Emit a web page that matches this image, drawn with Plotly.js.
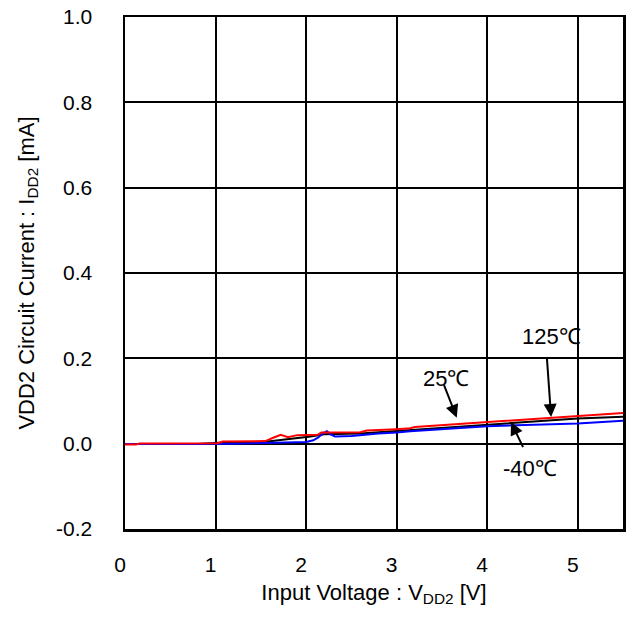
<!DOCTYPE html>
<html><head><meta charset="utf-8">
<script src="https://cdn.plot.ly/plotly-3.0.1.min.js"></script>
<style>html,body{margin:0;padding:0;background:#fff;}</style>
</head><body>
<div id="chart" style="width:629px;height:621px;"></div>
<script>
// Input voltage VDD2 [V] and circuit current IDD2 [mA]
const x125 = [0, 0.12, 0.16, 1.02, 1.08, 1.55, 1.65, 1.72, 1.8, 1.9, 2.13, 2.17, 2.6, 2.67, 3.0, 3.15, 3.2, 4.0, 5.0, 5.5];
const y125 = [-0.002, -0.002, 0.0005, 0.001, 0.005, 0.006, 0.015, 0.021, 0.015, 0.02, 0.021, 0.026, 0.027, 0.031, 0.034, 0.036, 0.039, 0.051, 0.065, 0.072];

const x25 = [0, 0.8, 1.05, 1.53, 2.05, 2.2, 2.6, 3.0, 3.15, 4.0, 5.0, 5.5];
const y25 = [-0.001, -0.001, 0.002, 0.004, 0.017, 0.022, 0.024, 0.03, 0.033, 0.045, 0.059, 0.063];

const xm40 = [0, 0.72, 0.76, 0.8, 1.2, 1.6, 2.0, 2.08, 2.13, 2.2, 2.23, 2.27, 2.32, 2.5, 2.8, 3.0, 3.15, 4.0, 5.0, 5.5];
const ym40 = [-0.001, -0.001, -0.002, -0.001, 0.0, 0.002, 0.004, 0.008, 0.014, 0.026, 0.029, 0.022, 0.017, 0.018, 0.024, 0.026, 0.029, 0.041, 0.047, 0.054];

const xTicks = [0, 1, 2, 3, 4, 5];
const yTicks = [-0.2, 0, 0.2, 0.4, 0.6, 0.8, 1.0];
const seriesNames = ['25℃', '-40℃', '125℃'];

const font = 'Arial, "Liberation Sans", sans-serif';

const traces = [
  {x: x25, y: y25, name: seriesNames[0], mode: 'lines', line: {color: '#000000', width: 2}},
  {x: xm40, y: ym40, name: seriesNames[1], mode: 'lines', line: {color: '#0000ff', width: 2}},
  {x: x125, y: y125, name: seriesNames[2], mode: 'lines', line: {color: '#ff0000', width: 2}}
];

const arrow = (hx, hy, tx, ty) => ({
  x: hx, y: hy, ax: tx, ay: ty, xref: 'x', yref: 'y', axref: 'x', ayref: 'y',
  text: '', showarrow: true, arrowhead: 2, arrowsize: 1.3, arrowwidth: 2, arrowcolor: '#000', standoff: 0
});
const label = (tx, ty, t) => ({
  x: tx, y: ty, xref: 'x', yref: 'y', text: t, showarrow: false,
  font: {family: font, size: 22, color: '#000'}, xanchor: 'center', yanchor: 'middle'
});

const layout = {
  width: 629, height: 621,
  margin: {l: 125, r: 6, t: 17, b: 92},
  paper_bgcolor: '#fff', plot_bgcolor: '#fff',
  showlegend: false,
  font: {family: font, size: 22, color: '#000'},
  xaxis: {
    range: [0, 5.5], tickvals: xTicks, ticktext: xTicks.map(String),
    showgrid: true, gridcolor: '#000', gridwidth: 2, zeroline: false,
    showline: true, linecolor: '#000', linewidth: 2.5, mirror: true,
    ticks: '', ticklabelstandoff: 15, ticklabelshift: -5,
    tickfont: {family: font, size: 21, color: '#000'},
    title: {text: 'Input Voltage : V<sub>DD2</sub> [V]', font: {family: font, size: 22, color: '#000'}, standoff: 10}
  },
  yaxis: {
    range: [-0.2, 1.0], tickvals: yTicks, ticktext: yTicks.map(v => v.toFixed(1)),
    showgrid: true, gridcolor: '#000', gridwidth: 2, zeroline: false,
    showline: true, linecolor: '#000', linewidth: 2.5, mirror: true,
    ticks: '', ticklabelstandoff: 26,
    tickfont: {family: font, size: 21, color: '#000'},
    title: {text: 'VDD2 Circuit Current : I<sub>DD2</sub> [mA]', font: {family: font, size: 22, color: '#000'}, standoff: 16}
  },
  annotations: [
    label(4.706, 0.252, '125℃'), arrow(4.706, 0.0624, 4.659, 0.2026),
    label(3.542, 0.153, '25℃'), arrow(3.664, 0.061, 3.517, 0.1408),
    label(4.473, -0.058, '-40℃'), arrow(4.263, 0.0507, 4.404, -0.0117)
  ]
};

Plotly.newPlot('chart', traces, layout, {displayModeBar: false, staticPlot: true});
</script>
</body></html>
